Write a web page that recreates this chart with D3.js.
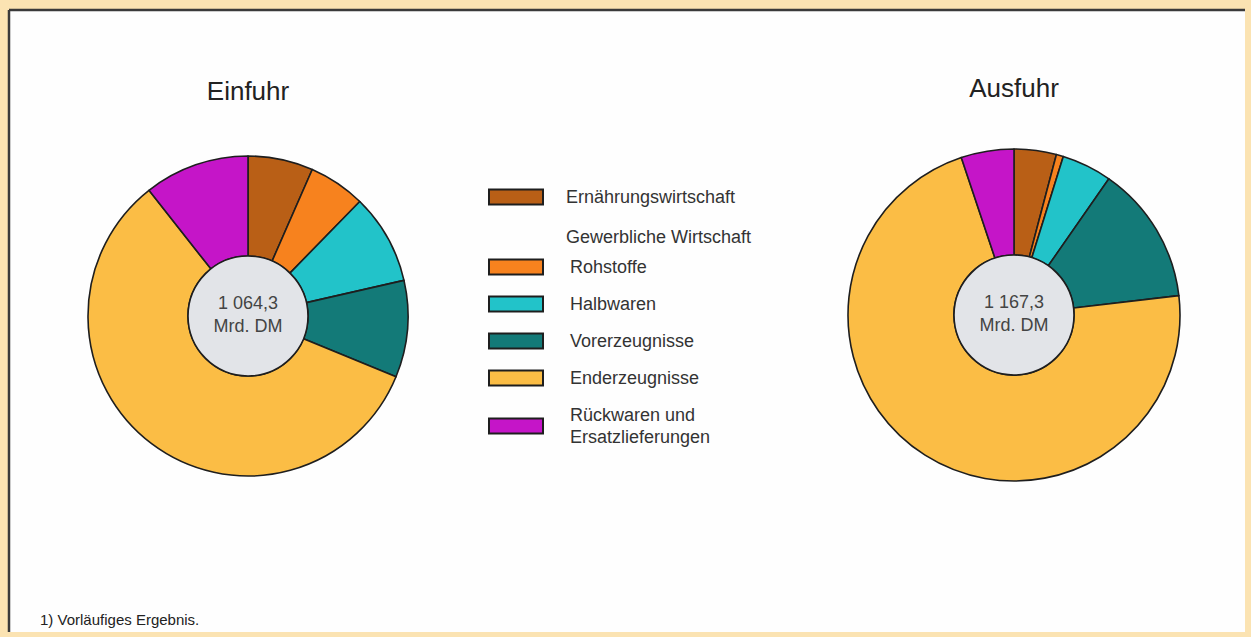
<!DOCTYPE html>
<html><head><meta charset="utf-8">
<script src="https://cdn.jsdelivr.net/npm/d3@7"></script>
<style>html,body{margin:0;padding:0;background:#fbe3b2;}svg{display:block;}</style>
</head><body>
<script>
const categories = ["Ernährungswirtschaft","Rohstoffe","Halbwaren","Vorerzeugnisse","Enderzeugnisse","Rückwaren und Ersatzlieferungen"];
const colors = ["#b95f16","#f7821e","#22c3c9","#137a78","#fbbd45","#c515c8"];
const einfuhrValues = [70, 61, 97, 104, 619, 113];
const ausfuhrValues = [48, 8, 57, 157, 837, 60];
const charts = [
  {title:"Einfuhr", total:"1 064,3", unit:"Mrd. DM", values: einfuhrValues},
  {title:"Ausfuhr", total:"1 167,3", unit:"Mrd. DM", values: ausfuhrValues}
];
const legendLabels = [["Ernährungswirtschaft"],["Rohstoffe"],["Halbwaren"],["Vorerzeugnisse"],["Enderzeugnisse"],["Rückwaren und","Ersatzlieferungen"]];
const legendHeading = "Gewerbliche Wirtschaft";
const footnote = "1) Vorläufiges Ergebnis.";

const W=1251,H=637;
const svg=d3.select("body").append("svg").attr("width",W).attr("height",H);
svg.append("rect").attr("x",0).attr("y",0).attr("width",W).attr("height",H).attr("fill","#fbe3b2");
svg.append("rect").attr("x",9).attr("y",10).attr("width",1236).attr("height",622).attr("fill","#fefefe");
svg.append("line").attr("x1",9).attr("x2",1245).attr("y1",10).attr("y2",10).attr("stroke","#3a3a3a").attr("stroke-width",2.5);
svg.append("line").attr("x1",9).attr("x2",9).attr("y1",10).attr("y2",632).attr("stroke","#3a3a3a").attr("stroke-width",2.5);

const font="'Liberation Sans', Arial, Helvetica, sans-serif";
const layout=[{cx:248,cy:316,R:160,r:60,ty:100},{cx:1014,cy:315,R:166,r:60,ty:97}];
const pie=d3.pie().sort(null).value(d=>d);
charts.forEach((c,i)=>{
  const L=layout[i];
  const g=svg.append("g").attr("transform",`translate(${L.cx},${L.cy})`);
  const arc=d3.arc().innerRadius(L.r).outerRadius(L.R);
  g.selectAll("path").data(pie(c.values)).enter().append("path")
    .attr("d",arc).attr("fill",(d,j)=>colors[j]).attr("stroke","#1e1e1e").attr("stroke-width",1.6).attr("stroke-linejoin","round");
  g.append("circle").attr("r",L.r).attr("fill","#e2e4e8").attr("stroke","#1e1e1e").attr("stroke-width",1.6);
  g.append("text").attr("y",-7).attr("text-anchor","middle").attr("font-family",font).attr("font-size",18).attr("fill","#444").text(c.total);
  g.append("text").attr("y",16).attr("text-anchor","middle").attr("font-family",font).attr("font-size",18).attr("fill","#444").text(c.unit);
  svg.append("text").attr("x",L.cx).attr("y",L.ty).attr("text-anchor","middle").attr("font-family",font).attr("font-size",26).attr("fill","#222").text(c.title);
});

const ly=[197,267,304,341,378,426];
const lg=svg.append("g");
categories.forEach((cat,j)=>{
  lg.append("rect").attr("x",489).attr("y",ly[j]-7.5).attr("width",54).attr("height",15).attr("fill",colors[j]).attr("stroke","#1e1e1e").attr("stroke-width",2);
  const lines=legendLabels[j];
  const tx = j===0?566:570;
  lines.forEach((t,k)=>{
    lg.append("text").attr("x",tx).attr("y",ly[j]+6+(lines.length>1?(k-0.5)*22:0)).attr("font-family",font).attr("font-size",18).attr("fill","#333").text(t);
  });
});
lg.append("text").attr("x",566).attr("y",243).attr("font-family",font).attr("font-size",18).attr("fill","#333").text(legendHeading);
svg.append("text").attr("x",40).attr("y",625).attr("font-family",font).attr("font-size",15).attr("fill","#222").text(footnote);
</script>
</body></html>
